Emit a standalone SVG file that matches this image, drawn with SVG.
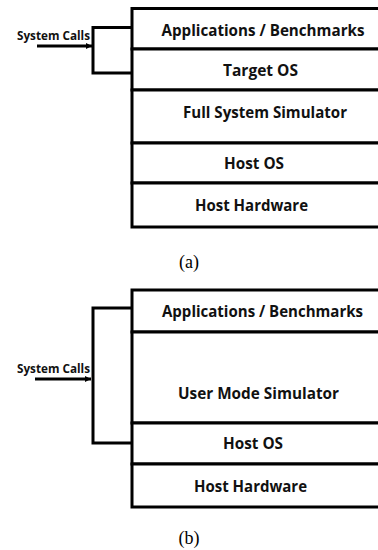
<svg xmlns="http://www.w3.org/2000/svg" width="378" height="550" viewBox="0 0 378 550">
<defs>
<marker id="ah" viewBox="0 0 6 6" refX="6" refY="3" markerWidth="2" markerHeight="2.4" orient="auto" markerUnits="strokeWidth">
<path d="M0,0 L6,3 L0,6 Z" fill="#000"/>
</marker>
<style>
.box{fill:#fff;stroke:#000;stroke-width:3}
.ln{fill:none;stroke:#000;stroke-width:3}
.lbl{font-family:"Open Sans","Liberation Sans",sans-serif;font-weight:bold;font-size:16px;text-anchor:middle;dominant-baseline:central;fill:#111}
.sc{font-family:"Open Sans","Liberation Sans",sans-serif;font-weight:bold;font-size:11.5px;fill:#111}
.cap{font-family:"Liberation Serif",serif;font-size:18px;text-anchor:middle;fill:#000}
</style>
</defs>
<rect width="378" height="550" fill="#fff"/>
<!-- (a) -->
<g id="a-apps"><rect class="box" x="132" y="8.5" width="260" height="40.5"/><text class="lbl" x="263" y="30" textLength="203" lengthAdjust="spacingAndGlyphs">Applications / Benchmarks</text></g>
<g id="a-target"><rect class="box" x="132" y="49" width="260" height="41"/><text class="lbl" x="260.5" y="70" textLength="75" lengthAdjust="spacingAndGlyphs">Target OS</text></g>
<g id="a-fss"><rect class="box" x="132" y="90" width="260" height="53"/><text class="lbl" x="265" y="112" textLength="164" lengthAdjust="spacingAndGlyphs">Full System Simulator</text></g>
<g id="a-hostos"><rect class="box" x="132" y="143" width="260" height="40"/><text class="lbl" x="254" y="163" textLength="60" lengthAdjust="spacingAndGlyphs">Host OS</text></g>
<g id="a-hw"><rect class="box" x="132" y="183" width="260" height="44"/><text class="lbl" x="251.5" y="205" textLength="113" lengthAdjust="spacingAndGlyphs">Host Hardware</text></g>
<text class="cap" x="189" y="268">(a)</text>
<!-- (b) -->
<g id="b-apps"><rect class="box" x="132" y="290" width="260" height="42"/><text class="lbl" x="262.5" y="311" textLength="201" lengthAdjust="spacingAndGlyphs">Applications / Benchmarks</text></g>
<g id="b-ums"><rect class="box" x="132" y="332" width="260" height="91"/><text class="lbl" x="258.5" y="393" textLength="161" lengthAdjust="spacingAndGlyphs">User Mode Simulator</text></g>
<g id="b-hostos"><rect class="box" x="132" y="423" width="260" height="41"/><text class="lbl" x="253" y="443" textLength="60" lengthAdjust="spacingAndGlyphs">Host OS</text></g>
<g id="b-hw"><rect class="box" x="132" y="464" width="260" height="43"/><text class="lbl" x="250.5" y="486" textLength="113" lengthAdjust="spacingAndGlyphs">Host Hardware</text></g>
<text class="cap" x="189" y="544">(b)</text>
<!-- connectors -->
<g id="connectors">
<path class="ln" d="M132,27.5 H93 V73 H132"/>
<line class="ln" x1="37" y1="46" x2="92" y2="46" marker-end="url(#ah)"/>
<text class="sc" x="17" y="40" textLength="73" lengthAdjust="spacingAndGlyphs">System Calls</text>
<path class="ln" d="M132,308 H93 V443 H132"/>
<line class="ln" x1="35" y1="379" x2="91" y2="379" marker-end="url(#ah)"/>
<text class="sc" x="17" y="373" textLength="73" lengthAdjust="spacingAndGlyphs">System Calls</text>
</g>
</svg>
